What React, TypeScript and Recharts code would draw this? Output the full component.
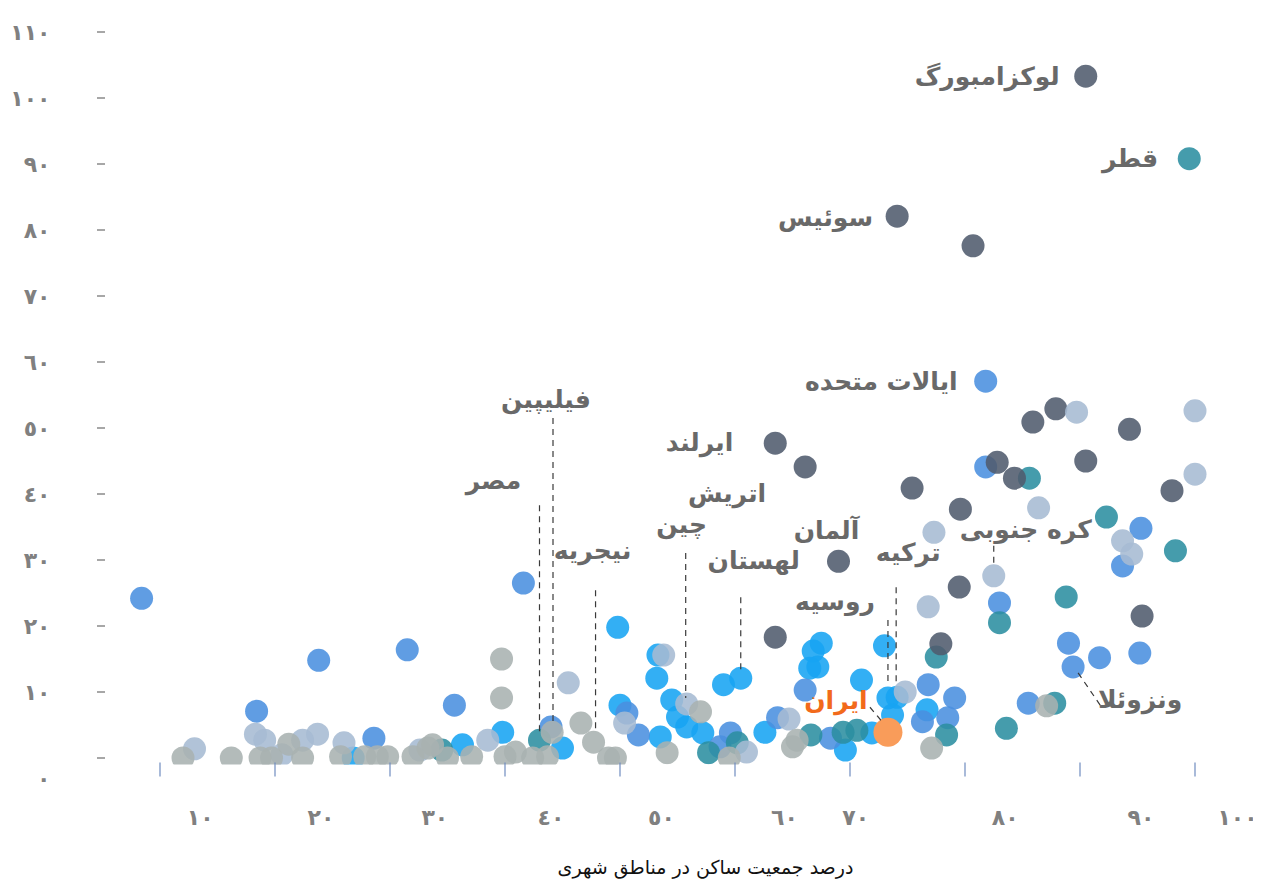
import React from "react";
import { ScatterChart, Scatter, XAxis, YAxis, Label } from "recharts";

type Pt = { x: number; y: number; name?: string };

// x: percent of population living in urban areas, y: GDP per capita (thousand $)
const darkPoints: Pt[] = [
  { x: 90.5, y: 103.3, name: "لوکزامبورگ" }, { x: 74.1, y: 82.1, name: "سوئیس" }, { x: 80.7, y: 77.6 },
  { x: 87.9, y: 52.9 }, { x: 85.9, y: 50.9 }, { x: 94.3, y: 49.8 }, { x: 63.5, y: 47.7, name: "ایرلند" },
  { x: 66.1, y: 44.1, name: "اتریش" }, { x: 82.8, y: 44.8 }, { x: 84.3, y: 42.4 }, { x: 90.5, y: 45.0 },
  { x: 98.0, y: 40.5 }, { x: 75.4, y: 40.9 }, { x: 79.6, y: 37.7 }, { x: 69.0, y: 29.8, name: "آلمان" },
  { x: 79.5, y: 25.9 }, { x: 95.4, y: 21.5 }, { x: 63.5, y: 18.3 }, { x: 77.9, y: 17.3 },
];

const tealPoints: Pt[] = [
  { x: 99.5, y: 90.8, name: "قطر" }, { x: 85.6, y: 42.4 }, { x: 92.3, y: 36.5 }, { x: 98.3, y: 31.4 },
  { x: 88.8, y: 24.4 }, { x: 83.0, y: 20.5 }, { x: 77.5, y: 15.3 }, { x: 87.8, y: 8.3 }, { x: 83.6, y: 4.5 },
  { x: 78.4, y: 3.5 }, { x: 69.4, y: 3.9 }, { x: 70.6, y: 4.2 }, { x: 66.6, y: 3.5 }, { x: 60.2, y: 2.3 },
  { x: 57.7, y: 0.8 }, { x: 43.0, y: 2.7, name: "مصر" }, { x: 34.5, y: 1.2 },
];

const bluePoints: Pt[] = [
  { x: 81.8, y: 57.1, name: "ایالات متحده" }, { x: 81.8, y: 44.1 }, { x: 95.3, y: 34.8 }, { x: 93.7, y: 29.1 },
  { x: 83.0, y: 23.5 }, { x: 89.0, y: 17.4 }, { x: 89.4, y: 13.8, name: "ونزوئلا" }, { x: 91.7, y: 15.2 },
  { x: 95.2, y: 15.9 }, { x: 76.8, y: 11.1 }, { x: 79.1, y: 9.1 }, { x: 85.5, y: 8.3 }, { x: 76.3, y: 5.5 },
  { x: 78.5, y: 6.1 }, { x: 66.1, y: 10.3 }, { x: 68.3, y: 3.0 }, { x: 63.7, y: 6.1 }, { x: 59.6, y: 3.8 },
  { x: 58.7, y: 1.7 }, { x: 51.6, y: 3.5 }, { x: 50.6, y: 6.8 }, { x: 44.0, y: 4.7, name: "فیلیپین" },
  { x: 41.6, y: 26.5 }, { x: 35.6, y: 8.0 }, { x: 31.5, y: 16.4 }, { x: 28.6, y: 3.0 }, { x: 23.8, y: 14.8 },
  { x: 18.4, y: 7.1 }, { x: 8.4, y: 24.2 },
];

const cyanPoints: Pt[] = [
  { x: 49.8, y: 19.8 }, { x: 53.3, y: 15.6 }, { x: 53.2, y: 12.1 }, { x: 50.0, y: 8.0 }, { x: 54.5, y: 8.8 },
  { x: 55.0, y: 6.2 }, { x: 55.8, y: 4.7 }, { x: 53.5, y: 3.2 }, { x: 57.2, y: 3.8 }, { x: 59.0, y: 11.1 },
  { x: 60.5, y: 12.1, name: "لهستان" }, { x: 62.6, y: 3.9 }, { x: 67.5, y: 17.4 }, { x: 66.8, y: 16.2 },
  { x: 67.2, y: 13.8 }, { x: 66.5, y: 13.6 }, { x: 71.0, y: 11.8 }, { x: 73.0, y: 17.0 },
  { x: 73.3, y: 9.1, name: "روسیه" }, { x: 74.1, y: 9.2, name: "ترکیه" }, { x: 73.7, y: 6.5 },
  { x: 71.9, y: 3.8 }, { x: 69.6, y: 1.2 }, { x: 76.7, y: 7.3 }, { x: 45.0, y: 1.5 }, { x: 39.8, y: 3.9 },
  { x: 36.3, y: 2.0 }, { x: 26.8, y: 0.0 },
];

const lightPoints: Pt[] = [
  { x: 89.7, y: 52.4 }, { x: 100.0, y: 52.6 }, { x: 100.0, y: 43.0 }, { x: 86.4, y: 37.9 }, { x: 77.3, y: 34.2 },
  { x: 93.7, y: 32.9 }, { x: 94.5, y: 30.9 }, { x: 82.5, y: 27.6, name: "کره جنوبی" }, { x: 76.8, y: 22.9 },
  { x: 74.8, y: 10.0 }, { x: 64.7, y: 5.9 }, { x: 61.0, y: 0.9 }, { x: 53.8, y: 15.6 }, { x: 50.4, y: 5.3 },
  { x: 45.5, y: 11.4 }, { x: 38.5, y: 2.7 }, { x: 32.6, y: 1.2 }, { x: 26.0, y: 2.3 }, { x: 23.7, y: 3.6 },
  { x: 22.4, y: 2.7 }, { x: 20.6, y: 0.5 }, { x: 19.1, y: 2.7 }, { x: 18.3, y: 3.6 }, { x: 13.0, y: 1.4 },
  { x: 55.8, y: 8.2, name: "چین" },
];

const grayPoints: Pt[] = [
  { x: 39.7, y: 15.0 }, { x: 39.7, y: 9.1 }, { x: 46.6, y: 5.3 }, { x: 47.7, y: 2.4, name: "نیجریه" },
  { x: 49.0, y: 0.0 }, { x: 49.6, y: 0.0 }, { x: 44.1, y: 3.9 }, { x: 43.7, y: 0.2 }, { x: 42.4, y: 0.0 },
  { x: 40.9, y: 0.9 }, { x: 40.0, y: 0.2 }, { x: 37.1, y: 0.2 }, { x: 35.0, y: 0.0 }, { x: 33.7, y: 2.0 },
  { x: 33.3, y: 1.5 }, { x: 32.0, y: 0.2 }, { x: 29.8, y: 0.2 }, { x: 28.9, y: 0.2 }, { x: 27.8, y: 0.2 },
  { x: 25.7, y: 0.2 }, { x: 22.4, y: 0.0 }, { x: 21.2, y: 2.1 }, { x: 19.7, y: 0.0 }, { x: 18.7, y: 0.0 },
  { x: 16.2, y: 0.0 }, { x: 12.0, y: 0.0 }, { x: 54.1, y: 0.8 }, { x: 57.0, y: 7.0 }, { x: 59.5, y: 0.0 },
  { x: 65.0, y: 1.7 }, { x: 65.4, y: 2.7 }, { x: 77.1, y: 1.5 }, { x: 87.1, y: 7.9 },
];

const iranPoints: Pt[] = [{ x: 73.3, y: 3.9, name: "ایران" }];

const xTickValues = [10, 20, 30, 40, 50, 60, 70, 80, 90, 100];
const xTickLabels = ["١٠", "٢٠", "٣٠", "٤٠", "٥٠", "٦٠", "٧٠", "٨٠", "٩٠", "١٠٠"];
const xTickLabelValues = [13.5, 24.0, 33.9, 44.0, 53.6, 64.3, 70.5, 83.5, 95.3, 103.7];
const yTickValues = [0, 10, 20, 30, 40, 50, 60, 70, 80, 90, 100, 110];
const yTickLabels = ["٠", "١٠", "٢٠", "٣٠", "٤٠", "٥٠", "٦٠", "٧٠", "٨٠", "٩٠", "١٠٠", "١١٠"];
const xTitle = "درصد جمعیت ساکن در مناطق شهری";

// ---- styling / layout (not data) ----
const COLORS = {
  dark: "#505b6d",
  teal: "#2b8ea1",
  blue: "#4a8fdf",
  cyan: "#17a4f3",
  light: "#a6bbd3",
  gray: "#a8b2b0",
  iran: "#f99c5a",
};
const FONT = "'DejaVu Sans', sans-serif";
const LABEL_GRAY = "#696969";

type Layout = { dx: number; dy: number; anchor?: "start" | "middle" | "end"; line?: number[]; color?: string };
const labelLayout: Record<string, Layout> = {
  "لوکزامبورگ": { dx: -26, dy: 0, anchor: "end" },
  "قطر": { dx: -31, dy: 0, anchor: "end" },
  "سوئیس": { dx: -24, dy: 1, anchor: "end" },
  "ایالات متحده": { dx: -28, dy: 0, anchor: "end" },
  "ایرلند": { dx: -42, dy: -1, anchor: "end" },
  "اتریش": { dx: -39, dy: 27, anchor: "end" },
  "آلمان": { dx: -12, dy: -31 },
  "فیلیپین": { dx: -5, dy: -327, line: [2, -309, 2, -5] },
  "مصر": { dx: -46, dy: -260, line: [0, -235, 0, -7] },
  "نیجریه": { dx: -1, dy: -192, line: [2, -152, 2, -10] },
  "چین": { dx: -5, dy: -179, line: [-1, -151, -1, -6] },
  "لهستان": { dx: 13, dy: -118, line: [0, -81, 0, -6] },
  "روسیه": { dx: -53, dy: -96, line: [0, -78, 0, -12] },
  "ترکیه": { dx: 11, dy: -145, line: [-1, -110, -1, -12] },
  "ایران": { dx: -52, dy: -32, line: [-18, -25, -7, -12], color: "#f26a1b" },
  "کره جنوبی": { dx: 32, dy: -46, line: [0, -30, 0, -13] },
  "ونزوئلا": { dx: 67, dy: 33, line: [5, 6, 29, 41] },
};

const allSeries = [darkPoints, tealPoints, bluePoints, cyanPoints, lightPoints, grayPoints, iranPoints];
const labeledPoints = allSeries.flat().filter((p) => p.name);

const dot = (color: string, r: number, op = 0.88) => (props: any) => {
  if (props.cx == null || props.cy == null) return <g />;
  return <circle cx={props.cx} cy={props.cy} r={r} fill={color} fillOpacity={op} />;
};

const Annotation = (props: any) => {
  const { cx, cy, payload } = props;
  const lay = payload && payload.name ? labelLayout[payload.name] : undefined;
  if (!lay || cx == null) return <g />;
  return (
    <g>
      {lay.line && (
        <line
          x1={cx + lay.line[0]}
          y1={cy + lay.line[1]}
          x2={cx + lay.line[2]}
          y2={cy + lay.line[3]}
          stroke="#3a3a3a"
          strokeWidth={1.2}
          strokeDasharray="6 5"
        />
      )}
      <text
        x={cx + lay.dx}
        y={cy + lay.dy}
        textAnchor={lay.anchor || "middle"}
        dominantBaseline="central"
        fontFamily={FONT}
        fontWeight="bold"
        fontSize={25}
        fill={lay.color || LABEL_GRAY}
      >
        {payload.name}
      </text>
    </g>
  );
};

const YTick = (props: any) => {
  const { x, y, index } = props;
  const isZero = index === 0;
  return (
    <g>
      <line x1={x - 5.5} x2={x + 2.5} y1={y} y2={y} stroke="#8a8a8a" strokeWidth={1.5} />
      <text
        x={x - 52}
        y={y + (isZero ? 20 : 0)}
        textAnchor="end"
        dominantBaseline="central"
        fontFamily={FONT}
        fontWeight="bold"
        fontSize={22}
        fill="#808080"
      >
        {yTickLabels[index]}
      </text>
    </g>
  );
};

const XTickMark = (props: any) => {
  const { x, y } = props;
  return <line x1={x} x2={x} y1={y - 2} y2={y + 12} stroke="#6f8cc0" strokeWidth={1.2} />;
};

const XTickLabel = (props: any) => {
  const { x, y, index } = props;
  return (
    <text
      x={x}
      y={y + 39}
      textAnchor="middle"
      dominantBaseline="central"
      fontFamily={FONT}
      fontWeight="bold"
      fontSize={22}
      fill="#808080"
    >
      {xTickLabels[index]}
    </text>
  );
};

const TitleLabel = (props: any) => {
  const vb = props.viewBox || { x: 0, y: 0, width: 0, height: 0 };
  return (
    <text
      x={vb.x + vb.width / 2 + 28}
      y={vb.y + 88}
      textAnchor="middle"
      dominantBaseline="central"
      fontFamily={FONT}
      fontSize={19}
      fill="#111"
    >
      {xTitle}
    </text>
  );
};

export default function App() {
  return (
    <div style={{ width: 1253, height: 873, background: "#fff" }}>
      <ScatterChart width={1253} height={873} margin={{ top: 10.8, right: 8.5, bottom: 0, left: 0 }}>
        <XAxis
          xAxisId={0}
          type="number"
          dataKey="x"
          domain={[5, 105]}
          ticks={xTickValues}
          interval={0}
          axisLine={false}
          tickLine={false}
          tickSize={0}
          tickMargin={0}
          height={14}
          tick={<XTickMark />}
          allowDataOverflow
        />
        <XAxis
          xAxisId={1}
          type="number"
          dataKey="x"
          domain={[5, 105]}
          ticks={xTickLabelValues}
          interval={0}
          axisLine={false}
          tickLine={false}
          tickSize={0}
          tickMargin={0}
          height={102.4}
          tick={<XTickLabel />}
          allowDataOverflow
        >
          <Label content={<TitleLabel />} />
        </XAxis>
        <YAxis
          type="number"
          dataKey="y"
          domain={[-1, 112]}
          ticks={yTickValues}
          interval={0}
          axisLine={false}
          tickLine={false}
          tickSize={0}
          tickMargin={0}
          width={94.5}
          tick={<YTick />}
          allowDataOverflow
        />
        <Scatter xAxisId={0} data={cyanPoints} shape={dot(COLORS.cyan, 11.5)} isAnimationActive={false} />
        <Scatter xAxisId={0} data={bluePoints} shape={dot(COLORS.blue, 11.5)} isAnimationActive={false} />
        <Scatter xAxisId={0} data={tealPoints} shape={dot(COLORS.teal, 11.5)} isAnimationActive={false} />
        <Scatter xAxisId={0} data={darkPoints} shape={dot(COLORS.dark, 11.5)} isAnimationActive={false} />
        <Scatter xAxisId={0} data={lightPoints} shape={dot(COLORS.light, 11.5)} isAnimationActive={false} />
        <Scatter xAxisId={0} data={grayPoints} shape={dot(COLORS.gray, 11.5)} isAnimationActive={false} />
        <Scatter xAxisId={0} data={iranPoints} shape={dot(COLORS.iran, 14.5, 1)} isAnimationActive={false} />
        <Scatter xAxisId={0} data={labeledPoints} shape={<Annotation />} isAnimationActive={false} />
      </ScatterChart>
    </div>
  );
}
